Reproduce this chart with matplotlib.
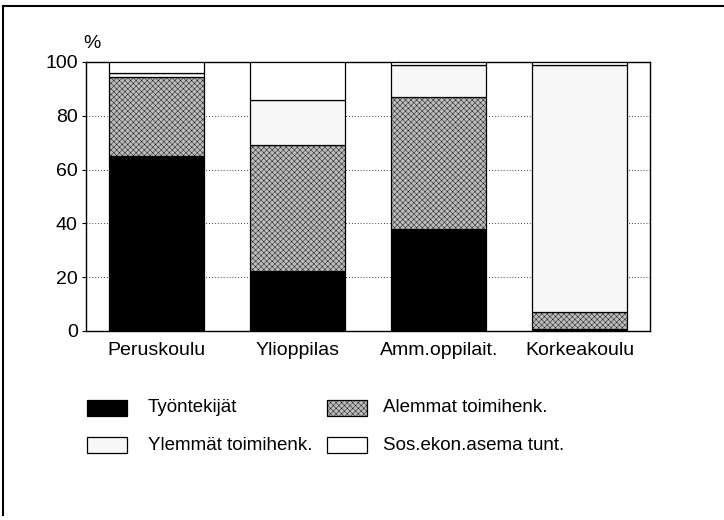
import matplotlib
matplotlib.use("Agg")
import matplotlib.pyplot as plt
from matplotlib.patches import Rectangle
from matplotlib.lines import Line2D
import numpy as np

plt.rcParams['font.family'] = ['Liberation Sans', 'DejaVu Sans']
plt.rcParams['hatch.linewidth'] = 0.3

categories = ["Peruskoulu", "Ylioppilas", "Amm.oppilait.", "Korkeakoulu"]
series_names = ["Työntekijät", "Alemmat toimihenk.", "Ylemmät toimihenk.", "Sos.ekon.asema tunt."]
tyontekijat = [65.0, 22.3, 37.8, 0.8]
alemmat = [29.5, 46.7, 49.2, 6.4]
ylemmat = [1.5, 16.7, 12.0, 91.8]
tuntematon = [4.0, 14.3, 1.0, 1.0]
yticks = [0, 20, 40, 60, 80, 100]

colors = ['#000000', '#bcbcbc', '#f7f7f7', '#ffffff']
hatches = [None, 'xxxxxx', None, None]

fig = plt.figure(figsize=(7.24, 5.2), dpi=100)
ax = fig.add_axes([0.119, 0.3635, 0.779, 0.5175])

x = np.arange(len(categories))
bottom = np.zeros(len(categories))
series = [tyontekijat, alemmat, ylemmat, tuntematon]
for vals, c, h in zip(series, colors, hatches):
    ax.bar(x, vals, width=0.67, bottom=bottom, color=c, edgecolor='black',
           linewidth=0.9, hatch=h, zorder=3)
    bottom += np.array(vals)

ax.set_xlim(-0.5, 3.5)
ax.set_ylim(0, 100)
ax.set_yticks(yticks)
ax.set_yticklabels([str(v) for v in yticks], fontsize=14)
ax.set_xticks(x)
ax.set_xticklabels(categories, fontsize=14)
ax.tick_params(axis='x', length=0, pad=8)
ax.tick_params(axis='y', length=3, width=0.8, pad=3)
for s in ax.spines.values():
    s.set_linewidth(1.0)
ax.yaxis.grid(True, linestyle=(0, (1, 2)), color='#444444', linewidth=0.7, zorder=1)
ax.set_axisbelow(True)
ax.text(-0.005, 1.035, "%", transform=ax.transAxes, fontsize=14, ha='left', va='bottom')

# legend (manual, figure coordinates in pixels)
W, H = 724, 520
def px(xp, yp):
    return xp / W, 1 - yp / H

legend_pos = [(87, 408), (327, 408), (87, 445), (327, 445)]
text_x = [148, 383, 148, 383]
for i, (name, c, h) in enumerate(zip(series_names, colors, hatches)):
    lx, ly = legend_pos[i]
    x0, y0 = px(lx, ly + 8)
    r = Rectangle((x0, y0), 40 / W, 16 / H, transform=fig.transFigure,
                  facecolor=c, edgecolor='black', linewidth=0.9, hatch=h)
    fig.patches.append(r)
    tx, ty = px(text_x[i], ly)
    fig.text(tx, ty, name, fontsize=13.5, ha='left', va='center')

# outer frame lines
fig.add_artist(Line2D([3 / W, 1.0], [1 - 6 / H, 1 - 6 / H], transform=fig.transFigure,
                      color='black', linewidth=1.5))
fig.add_artist(Line2D([3 / W, 3 / W], [1 - 6 / H, 1 - 515 / H], transform=fig.transFigure,
                      color='black', linewidth=1.5))

fig.savefig("out.png", dpi=100, facecolor='white')
